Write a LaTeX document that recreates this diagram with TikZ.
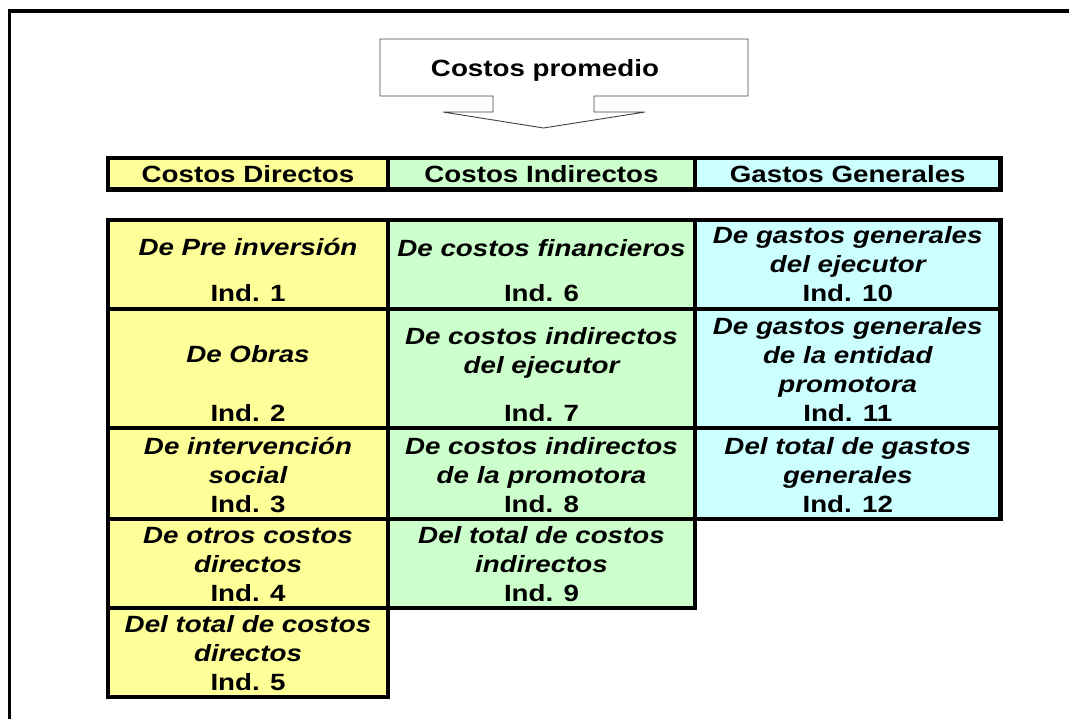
\documentclass[tikz,border=0pt]{standalone}
\usepackage{fontspec}
\newfontfamily\tabfont{Liberation Sans}[FakeStretch=1.18]
\usetikzlibrary{calc}
\definecolor{fill1}{RGB}{255,255,153}
\definecolor{fill2}{RGB}{204,255,204}
\definecolor{fill3}{RGB}{204,255,255}

\begin{document}
\begin{tikzpicture}[x=1pt, y=-1pt,
  cellbox/.style={draw=black, line width=4.2pt, inner sep=0pt, outer sep=0pt},
  headtxt/.style={font=\tabfont\bfseries\fontsize{23.5}{29}\selectfont},
  desctxt/.style={font=\tabfont\bfseries\itshape\fontsize{23.5}{29}\selectfont, align=center, inner sep=0pt, anchor=base},
  indtxt/.style={font=\tabfont\bfseries\fontsize{23.5}{29}\selectfont, inner sep=0pt, anchor=base}]
\useasboundingbox (0,0) rectangle (1069,719);
\def\colx{{108,388,695,1000.5}}
\def\rowy{{220,309,428,519,608,697}}
\draw[line width=3.5pt] (9.5,719) -- (9.5,11) -- (1069,11);
\draw[black!75, line width=0.9pt] (380,39) -- (748,39) -- (748,96) -- (594,96) -- (594,112) -- (645,112)
  -- (543.5,128) -- (443,112) -- (493,112) -- (493,96) -- (380,96) -- cycle;
\node[headtxt, inner sep=0pt, anchor=base] (avg) at (545,77) {Costos promedio};
\foreach \c/\txt in {1/Costos Directos, 2/Costos Indirectos, 3/Gastos Generales} {
 \pgfmathsetmacro\xl{\colx[\c-1]}
 \pgfmathsetmacro\xr{\colx[\c]}
 \pgfmathsetmacro\w{\xr-\xl}
 \node[cellbox, fill=fill\c, minimum width=\w pt, minimum height=31.5pt, headtxt] (h\c) at ({(\xl+\xr)/2},173.75) {\txt};
}
\foreach \c/\r/\desc/\idx/\gap in {1/1/{De Pre inversión}/1/46, 1/2/{De Obras}/2/58, 1/3/{De intervención\\social}/3/29,
  1/4/{De otros costos\\directos}/4/29, 1/5/{Del total de costos\\directos}/5/29,
  2/1/{De costos financieros}/6/45, 2/2/{De costos indirectos\\del ejecutor}/7/47,
  2/3/{De costos indirectos\\de la promotora}/8/29, 2/4/{Del total de costos\\indirectos}/9/29,
  3/1/{De gastos generales\\del ejecutor}/10/29, 3/2/{De gastos generales\\de la entidad\\promotora}/11/29,
  3/3/{Del total de gastos\\generales}/12/29} {
 \pgfmathsetmacro\xl{\colx[\c-1]}
 \pgfmathsetmacro\xr{\colx[\c]}
 \pgfmathsetmacro\yt{\rowy[\r-1]}
 \pgfmathsetmacro\yb{\rowy[\r]}
 \pgfmathsetmacro\w{\xr-\xl}
 \pgfmathsetmacro\h{\yb-\yt}
 \node[cellbox, fill=fill\c, minimum width=\w pt, minimum height=\h pt] (c\idx) at ({(\xl+\xr)/2},{(\yt+\yb)/2}) {};
 \node[indtxt] (i\idx) at ([yshift=7pt]c\idx.south) {Ind. \idx};
 \node[desctxt] (d\idx) at ([yshift=\gap pt]i\idx.base) {\desc};
}
\end{tikzpicture}
\end{document}
